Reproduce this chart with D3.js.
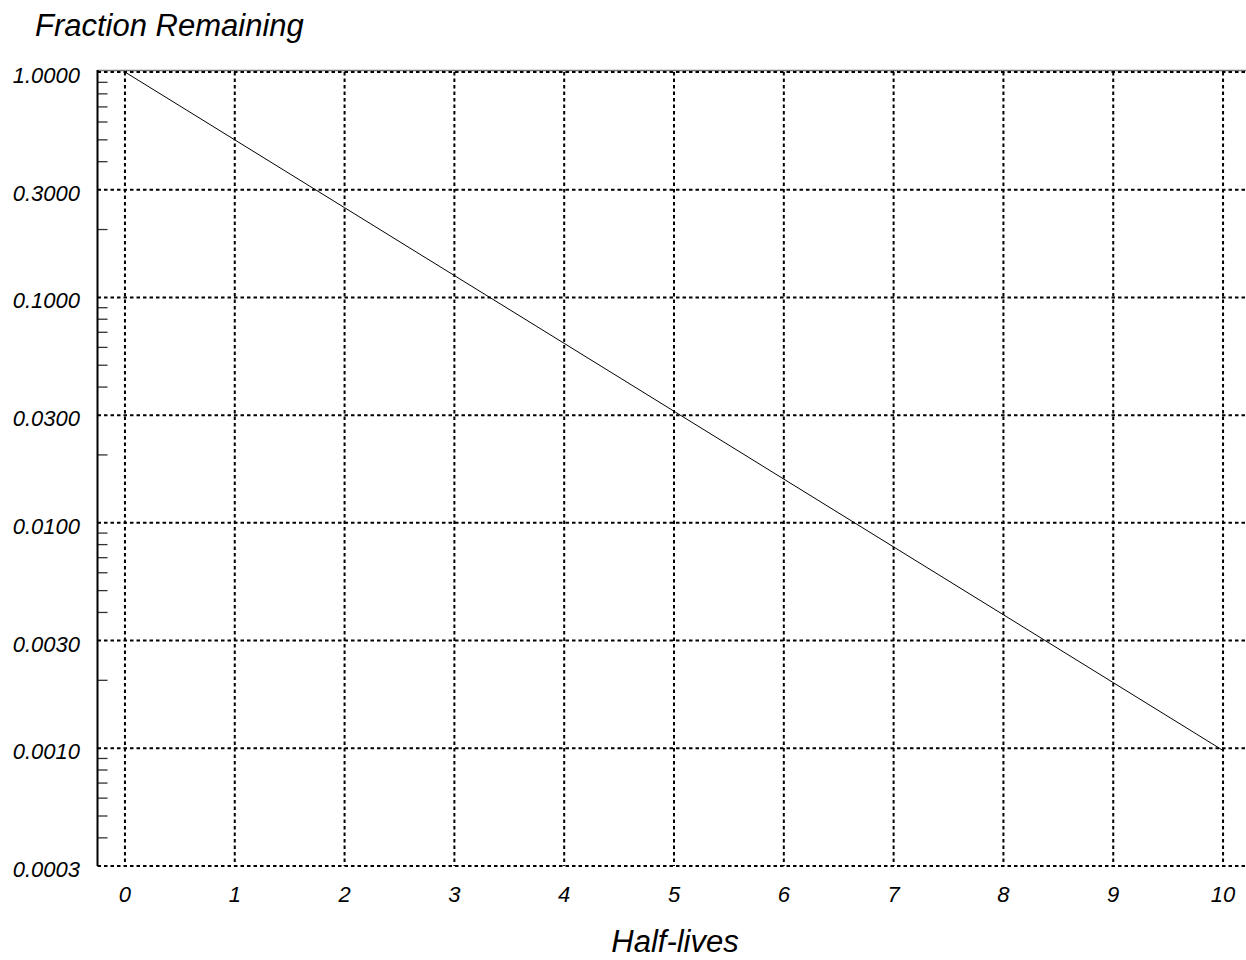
<!DOCTYPE html>
<html>
<head>
<meta charset="utf-8">
<script src="https://cdn.jsdelivr.net/npm/d3@7"></script>
<style>
body { margin: 0; background: #fff; }
text { font-family: "Liberation Sans", Arial, sans-serif; font-style: italic; fill: #000; }
</style>
</head>
<body>
<svg id="chart" width="1246" height="960"></svg>
<script>
// data
var halfLives = [0, 1, 2, 3, 4, 5, 6, 7, 8, 9, 10];
var fraction = [1, 0.5, 0.25, 0.125, 0.0625, 0.03125, 0.015625, 0.0078125, 0.00390625, 0.001953125, 0.0009765625];
var yTicks = [1, 0.3, 0.1, 0.03, 0.01, 0.003, 0.001, 0.0003];
var yMinor = [0.9, 0.8, 0.7, 0.6, 0.5, 0.4, 0.2,
	0.09, 0.08, 0.07, 0.06, 0.05, 0.04, 0.02,
	0.009, 0.008, 0.007, 0.006, 0.005, 0.004, 0.002,
	0.0009, 0.0008, 0.0007, 0.0006, 0.0005, 0.0004];
var xTicks = [0, 1, 2, 3, 4, 5, 6, 7, 8, 9, 10];

(function()
{
	var svg = d3.select("#chart");
	var left = 97.5, right = 1250.5, plotTop = 72, plotBottom = 866;

	var x = d3.scaleLinear().domain([-0.25, 10.25]).range([left, right]);
	var y = d3.scaleLog().domain([0.0003, 1]).range([plotBottom, plotTop]);

	// top solid border
	svg.append("line")
		.attr("x1", left).attr("x2", 1246)
		.attr("y1", plotTop - 1.5).attr("y2", plotTop - 1.5)
		.attr("stroke", "#777").attr("stroke-width", 1.5);

	// grid
	svg.append("g").selectAll("line").data(yTicks).enter().append("line")
		.attr("x1", left).attr("x2", 1246)
		.attr("y1", function(d) { return y(d); })
		.attr("y2", function(d) { return y(d); })
		.attr("stroke", "#000").attr("stroke-width", 2)
		.attr("stroke-dasharray", "3.5,3");

	svg.append("g").selectAll("line").data(xTicks).enter().append("line")
		.attr("x1", function(d) { return x(d); })
		.attr("x2", function(d) { return x(d); })
		.attr("y1", plotTop).attr("y2", plotBottom)
		.attr("stroke", "#000").attr("stroke-width", 2)
		.attr("stroke-dasharray", "3.5,3");

	// minor ticks
	svg.append("g").selectAll("line").data(yMinor).enter().append("line")
		.attr("x1", left).attr("x2", left + 10)
		.attr("y1", function(d) { return y(d); })
		.attr("y2", function(d) { return y(d); })
		.attr("stroke", "#333").attr("stroke-width", 1.3);

	// left axis line
	svg.append("line")
		.attr("x1", left).attr("x2", left)
		.attr("y1", plotTop - 2).attr("y2", plotBottom)
		.attr("stroke", "#000").attr("stroke-width", 2);

	// data line
	var line = d3.line()
		.x(function(d, i) { return x(halfLives[i]); })
		.y(function(d) { return y(d); });

	svg.append("path")
		.datum(fraction)
		.attr("d", line)
		.attr("fill", "none")
		.attr("stroke", "#000")
		.attr("stroke-width", 1);

	// tick labels
	svg.append("g").selectAll("text").data(yTicks).enter().append("text")
		.attr("x", 80)
		.attr("y", function(d) { return y(d) + 11; })
		.attr("text-anchor", "end")
		.attr("font-size", "22px")
		.text(function(d) { return d3.format(".4f")(d); });

	svg.append("g").selectAll("text").data(xTicks).enter().append("text")
		.attr("x", function(d) { return x(d); })
		.attr("y", 902)
		.attr("text-anchor", "middle")
		.attr("font-size", "22px")
		.text(function(d) { return d; });

	// titles
	svg.append("text")
		.attr("x", 35).attr("y", 36)
		.attr("font-size", "31px")
		.text("Fraction Remaining");

	svg.append("text")
		.attr("x", 675).attr("y", 952)
		.attr("text-anchor", "middle")
		.attr("font-size", "31px")
		.text("Half-lives");
})();
</script>
</body>
</html>
